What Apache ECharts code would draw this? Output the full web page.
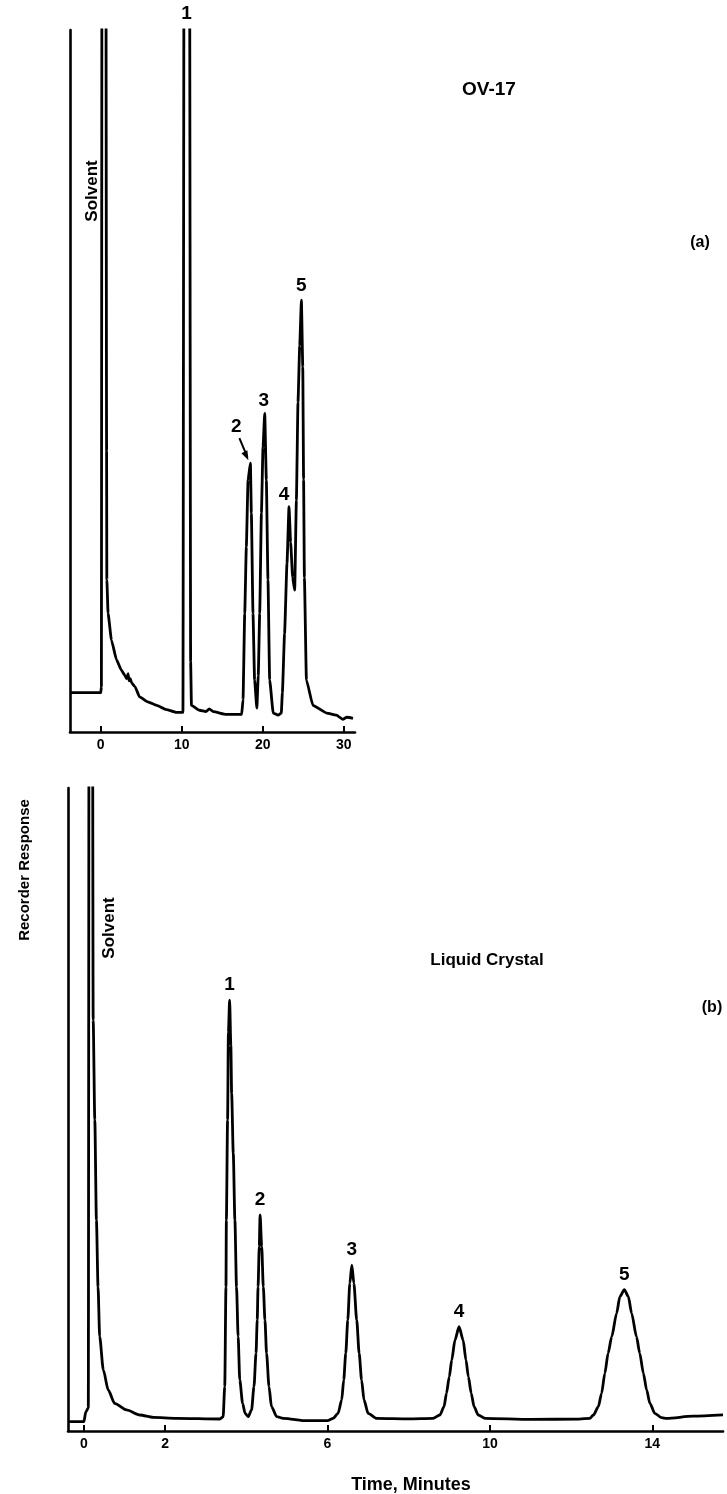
<!DOCTYPE html>
<html>
<head>
<meta charset="utf-8">
<script src="https://cdn.jsdelivr.net/npm/echarts@6/dist/echarts.min.js"></script>
<style>
html,body{margin:0;padding:0;background:#fff;}
#chart{width:727px;height:1494px;}
</style>
</head>
<body>
<div id="chart"></div>
<script>
// ---------- (a) OV-17 : time (min) / recorder response (% of chart height) ----------
const timesA = [-3.8, 0.0, 0.08, 0.15, 0.62, 0.72, 0.75, 0.9, 1.32, 1.94, 2.55, 2.96, 3.2, 3.37, 3.5, 3.65, 3.8, 4.2, 4.8, 5.8, 6.9, 8.1, 9.3, 10.15, 10.3, 10.95, 11.1, 11.2, 12.2, 13.0, 13.4, 13.9, 15.5, 17.4, 17.57, 17.78, 17.98, 18.19, 18.48, 18.6, 18.8, 19.0, 19.28, 19.45, 19.63, 19.84, 20.04, 20.25, 20.45, 20.65, 20.86, 21.3, 21.9, 22.3, 22.43, 22.7, 23.0, 23.25, 23.45, 23.7, 23.95, 24.16, 24.36, 24.57, 24.78, 24.95, 25.05, 25.15, 25.4, 26.2, 27.9, 29.1, 29.9, 30.4, 31.15];
const respA  = [5.6, 5.6, 6.5, 130, 130, 40, 21.7, 16.9, 13.1, 10.3, 8.8, 8.1, 7.6, 8.3, 7.3, 7.6, 7.0, 6.5, 5.0, 4.3, 3.8, 3.2, 2.8, 2.8, 130, 130, 10, 3.8, 3.1, 2.9, 3.3, 2.9, 2.5, 2.5, 4.6, 16.9, 26.4, 35.9, 38.3, 31.2, 16.9, 7.4, 3.4, 8, 16.9, 31.2, 40.6, 45.4, 35.9, 21.7, 7.4, 2.7, 2.4, 2.7, 5.6, 14, 24, 32.1, 27, 22, 20.2, 33, 47, 55, 61.5, 52, 36, 22, 7.4, 3.8, 2.7, 2.4, 1.8, 2.1, 1.95];
const ticksA = [0, 10, 20, 30];
const peakNamesA = ['1', '2', '3', '4', '5'];
const peakTimesA = [10.6, 18.48, 20.25, 23.25, 24.78];

// ---------- (b) Liquid Crystal ----------
const timesB = [-0.39, 0.0, 0.05, 0.11, 0.13, 0.21, 0.23, 0.27, 0.31, 0.35, 0.39, 0.48, 0.6, 0.76, 1.05, 1.38, 1.71, 2.28, 3.35, 3.43, 3.47, 3.5, 3.51, 3.54, 3.56, 3.59, 3.62, 3.64, 3.68, 3.72, 3.76, 3.8, 3.84, 3.91, 3.97, 4.05, 4.13, 4.19, 4.24, 4.27, 4.29, 4.32, 4.34, 4.38, 4.42, 4.46, 4.5, 4.56, 4.62, 4.75, 4.91, 5.5, 6.0, 6.14, 6.26, 6.35, 6.4, 6.45, 6.5, 6.55, 6.6, 6.65, 6.72, 6.78, 6.84, 6.9, 7.0, 7.21, 8.0, 8.6, 8.77, 8.87, 8.93, 9.0, 9.06, 9.14, 9.24, 9.34, 9.41, 9.47, 9.54, 9.61, 9.71, 9.88, 11.0, 12.2, 12.46, 12.55, 12.67, 12.75, 12.83, 12.91, 13.0, 13.12, 13.2, 13.31, 13.41, 13.49, 13.61, 13.69, 13.78, 13.86, 13.94, 14.06, 14.23, 14.35, 15.0, 15.74];
const respB  = [1.45, 1.45, 3.0, 3.6, 130, 130, 63.9, 48.4, 32.8, 22.4, 14.67, 9.5, 6.38, 4.3, 3.27, 2.49, 2.12, 1.97, 1.87, 2.2, 6.9, 22.4, 32.8, 48.4, 62, 67, 60, 52.5, 43.2, 32.8, 22.4, 14.67, 7.93, 4.3, 2.75, 2.23, 3.27, 6.9, 12.08, 17.26, 22.4, 28.7, 33.6, 28.7, 22.4, 17.26, 12.08, 6.9, 3.8, 2.23, 1.97, 1.6, 1.6, 1.97, 2.75, 4.82, 7.93, 12.08, 17.26, 22.97, 25.8, 22.97, 17.26, 12.08, 7.93, 4.82, 2.75, 1.97, 1.9, 1.97, 2.49, 3.78, 5.86, 8.45, 11.04, 14.15, 16.22, 14.15, 11.04, 8.45, 5.86, 3.78, 2.49, 1.97, 1.8, 1.85, 1.97, 2.49, 3.78, 5.86, 8.97, 12.08, 14.67, 18.3, 20.9, 22.0, 20.9, 18.3, 14.67, 12.08, 8.97, 6.38, 4.3, 2.75, 2.07, 1.97, 2.3, 2.5];
const ticksB = [0, 2, 6, 10, 14];
const peakNamesB = ['1', '2', '3', '4', '5'];
const peakTimesB = [3.59, 4.34, 6.6, 9.24, 13.31];

const FONT = '"Liberation Sans", Arial, sans-serif';
const chart = echarts.init(document.getElementById('chart'), null, {renderer: 'canvas'});

function pairs(t, v) { return t.map((x, i) => [x, v[i]]); }

function xAxisCfg(idx, min, max, ticks) {
  return {
    type: 'value', gridIndex: idx, min: min, max: max,
    axisLine: {show: true, onZero: false, lineStyle: {color: '#000', width: 2.6}},
    axisTick: {show: true, inside: true, length: 6, customValues: ticks, lineStyle: {color: '#000', width: 2}},
    axisLabel: {show: true, customValues: ticks, color: '#000', fontFamily: FONT, fontWeight: 'bold', fontSize: 14, margin: 6},
    splitLine: {show: false}
  };
}
function yAxisCfg(idx) {
  return {
    type: 'value', gridIndex: idx, min: 0, max: 100,
    axisLine: {show: true, onZero: false, lineStyle: {color: '#000', width: 2.6}},
    axisTick: {show: false}, axisLabel: {show: false}, splitLine: {show: false}
  };
}

chart.setOption({
  animation: false,
  backgroundColor: '#fff',
  grid: [
    {left: 70, right: 372, top: 30, bottom: 762},
    {left: 68, right: 4, top: 788, bottom: 63}
  ],
  xAxis: [xAxisCfg(0, -3.8, 31.4, ticksA), xAxisCfg(1, -0.39, 15.74, ticksB)],
  yAxis: [yAxisCfg(0), yAxisCfg(1)],
  series: [
    {type: 'line', xAxisIndex: 0, yAxisIndex: 0, data: pairs(timesA, respA), showSymbol: false,
     smooth: 0.15, smoothMonotone: 'x', clip: true, lineStyle: {color: '#000', width: 2.8}},
    {type: 'line', xAxisIndex: 1, yAxisIndex: 1, data: pairs(timesB, respB), showSymbol: false,
     smooth: 0.25, smoothMonotone: 'x', clip: true, lineStyle: {color: '#000', width: 2.8}}
  ]
});

function apex(times, resp, t) {
  let best = -1;
  times.forEach((x, i) => { if (Math.abs(x - t) < 0.3 && resp[i] > best) best = resp[i]; });
  return Math.min(best, 100);
}
function txt(x, y, s, size, extra) {
  return Object.assign({type: 'text', x: x, y: y,
    style: {text: s, fill: '#000', font: 'bold ' + size + 'px ' + FONT, align: 'center', verticalAlign: 'middle'}}, extra || {});
}

const g = [];
// peak labels (a)
const offA = [[0, -16], [-14, -36], [-1, -13], [-5, -12], [0, -15]];
peakNamesA.forEach((n, i) => {
  const p = chart.convertToPixel({xAxisIndex: 0, yAxisIndex: 0}, [peakTimesA[i], apex(timesA, respA, peakTimesA[i])]);
  g.push(txt(p[0] + offA[i][0], p[1] + offA[i][1], n, 19));
  if (i === 1) {
    g.push({type: 'line', shape: {x1: p[0] - 11, y1: p[1] - 25, x2: p[0] - 3, y2: p[1] - 6}, style: {stroke: '#000', lineWidth: 2}});
    g.push({type: 'polygon', shape: {points: [[p[0] - 2, p[1] - 3], [p[0] - 9, p[1] - 10], [p[0] - 3, p[1] - 13]]}, style: {fill: '#000'}});
  }
});
// peak labels (b)
peakNamesB.forEach((n, i) => {
  const p = chart.convertToPixel({xAxisIndex: 1, yAxisIndex: 1}, [peakTimesB[i], apex(timesB, respB, peakTimesB[i])]);
  g.push(txt(p[0], p[1] - 15, n, 19));
});
// annotations
g.push(txt(92, 191, 'Solvent', 17, {rotation: Math.PI / 2}));
g.push(txt(109, 928, 'Solvent', 17, {rotation: Math.PI / 2}));
g.push(txt(489, 90, 'OV-17', 19));
g.push(txt(700, 243, '(a)', 16));
g.push(txt(487, 960, 'Liquid Crystal', 17));
g.push(txt(712, 1008, '(b)', 16));
g.push(txt(25, 870, 'Recorder Response', 15, {rotation: Math.PI / 2}));
g.push(txt(411, 1485, 'Time, Minutes', 18));

chart.setOption({graphic: g});
</script>
</body>
</html>
